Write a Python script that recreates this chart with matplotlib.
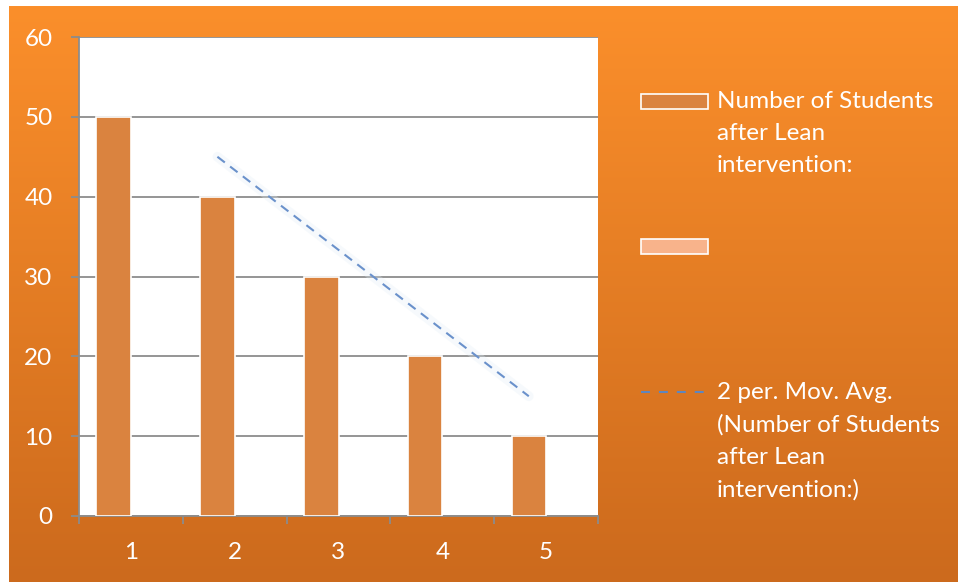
import numpy as np
import matplotlib
matplotlib.use("Agg")
import matplotlib.pyplot as plt
from matplotlib.patches import Rectangle
from matplotlib.lines import Line2D

# data
categories = [1, 2, 3, 4, 5]
students_after = [50, 40, 30, 20, 10]
mov_avg_cats = [2, 3, 4, 5]
mov_avg_values = [45, 35, 25, 15]
y_ticks = [0, 10, 20, 30, 40, 50, 60]

legend_main = ["Number of Students", "after Lean", "intervention:"]
legend_trend = ["2 per. Mov. Avg.", "(Number of Students", "after Lean", "intervention:)"]

W, H = 958, 582
BAR_COL = "#DA833F"
BAR2_COL = "#F8B38B"
GRID_COL = "#8C8C8C"
TREND_COL = "#6A91CB"
FONT = "Lato"
FS = 17.5

plt.rcParams['font.family'] = [FONT, 'DejaVu Sans']

fig = plt.figure(figsize=(W / 100, H / 100), dpi=100)
fig.patch.set_facecolor("white")


def fx(x):
    return x / W


def fy(y):
    return 1 - y / H


# fondo degradado naranja
bg = fig.add_axes([fx(9), 0, 1 - fx(9), fy(6)])
grad = np.linspace(0, 1, 256)[:, None]
top = np.array([0xFB, 0x8F, 0x2B]) / 255
bot = np.array([0xCC, 0x6A, 0x1D]) / 255
img = top[None, None, :] * (1 - grad[:, :, None]) + bot[None, None, :] * grad[:, :, None]
bg.imshow(img, aspect="auto", extent=[0, 1, 0, 1])
bg.set_axis_off()

# area del grafico
ax = fig.add_axes([fx(79), fy(516), fx(598 - 79), (516 - 37) / H])
ax.set_facecolor("white")

bar_w = 1 / 3
xs = np.array(categories, dtype=float)
ax.bar(xs - bar_w / 2, students_after, width=bar_w, color=BAR_COL,
       edgecolor="white", linewidth=1.2, zorder=3)

trend_x = np.array(mov_avg_cats, dtype=float) - bar_w / 2
ax.plot(trend_x, mov_avg_values, color="#e3eef7", lw=7, alpha=0.3,
        solid_capstyle="round", zorder=4)
ax.plot(trend_x, mov_avg_values, color=TREND_COL, lw=1.5,
        dashes=(4.5, 3.2), zorder=5)

ax.set_xlim(0.5, 5.5)
ax.set_ylim(0, 60)
ax.set_yticks(y_ticks)
ax.set_xticks(np.arange(0.5, 6.0, 1.0))
ax.set_xticklabels([])
ax.set_xticks(categories, minor=True)
ax.set_xticklabels([str(c) for c in categories], minor=True)

ax.grid(axis="y", color=GRID_COL, lw=1.3, zorder=1)
ax.set_axisbelow(True)
for side in ["right", "top"]:
    ax.spines[side].set_visible(False)
for side in ["left", "bottom"]:
    ax.spines[side].set_color(GRID_COL)
    ax.spines[side].set_linewidth(1.3)

ax.tick_params(axis="y", which="major", direction="out", length=6, width=1.3,
               color=GRID_COL, labelcolor="white", labelsize=FS, pad=13)
ax.tick_params(axis="x", which="major", direction="out", length=6, width=1.3,
               color=GRID_COL)
ax.tick_params(axis="x", which="minor", length=0, labelcolor="white",
               labelsize=FS, pad=19)

# leyenda manual
fig.patches.append(Rectangle((fx(641), fy(109)), fx(67), 15 / H, transform=fig.transFigure,
                             facecolor=BAR_COL, edgecolor="white", lw=1.2))
for i, line in enumerate(legend_main):
    fig.text(fx(717), fy(108 + 32 * i), line, color="white", fontsize=FS,
             va="baseline", ha="left")

fig.patches.append(Rectangle((fx(641), fy(254)), fx(67), 15 / H, transform=fig.transFigure,
                             facecolor=BAR2_COL, edgecolor="white", lw=1.2))

fig.lines.append(Line2D([fx(641), fx(706)], [fy(392), fy(392)], transform=fig.transFigure,
                        color="#5F86BE", lw=1.5, dashes=(4.3, 4.3)))
for i, line in enumerate(legend_trend):
    fig.text(fx(717), fy(399 + 32.5 * i), line, color="white", fontsize=FS,
             va="baseline", ha="left")

fig.savefig("out.png", dpi=100)
